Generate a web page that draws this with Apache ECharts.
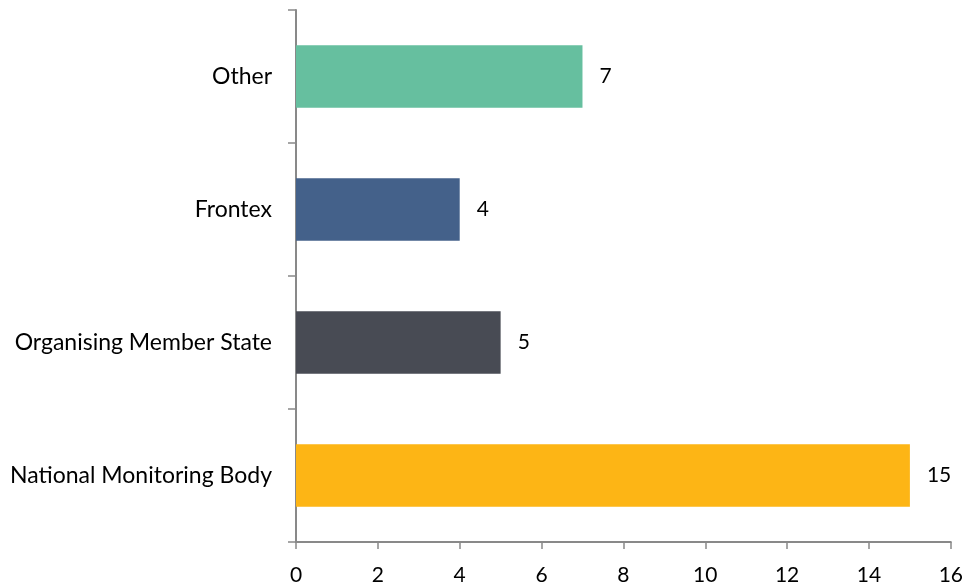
<!DOCTYPE html>
<html><head><meta charset="utf-8">
<script src="https://cdn.jsdelivr.net/npm/echarts@6/dist/echarts.min.js"></script>
<style>html,body{margin:0;padding:0;background:#fff}#c{width:966px;height:588px}</style>
</head><body><div id="c"></div>
<script>
const categories = ['National Monitoring Body', 'Organising Member State', 'Frontex', 'Other'];
const values = [15, 5, 4, 7];
const colors = ['#FDB515', '#484B54', '#44618A', '#66BF9F'];
const xTicks = [0, 2, 4, 6, 8, 10, 12, 14, 16];

const chart = echarts.init(document.getElementById('c'), null, {renderer: 'canvas'});
const font = 'Lato, "Open Sans", sans-serif';
chart.setOption({
  animation: false,
  grid: {left: 296, right: 15, top: 10, bottom: 46, containLabel: false},
  xAxis: {
    type: 'value', min: xTicks[0], max: xTicks[xTicks.length - 1], interval: 2,
    splitLine: {show: false},
    axisLine: {show: true, lineStyle: {color: '#898989', width: 2}},
    axisTick: {show: true, length: 7, lineStyle: {color: '#898989', width: 1.5}},
    axisLabel: {color: '#000', fontSize: 21, fontFamily: font, margin: 23}
  },
  yAxis: {
    type: 'category', data: categories,
    axisLine: {show: true, lineStyle: {color: '#898989', width: 2}},
    axisTick: {show: true, length: 8, lineStyle: {color: '#898989', width: 1.5}},
    axisLabel: {color: '#000', fontSize: 23, fontFamily: font, margin: 24}
  },
  series: [{
    type: 'bar',
    data: values.map((v, i) => ({value: v, itemStyle: {color: colors[i]}})),
    barCategoryGap: '53%',
    label: {show: true, position: 'right', distance: 17, color: '#000', fontSize: 21, fontFamily: font}
  }]
});
</script></body></html>
